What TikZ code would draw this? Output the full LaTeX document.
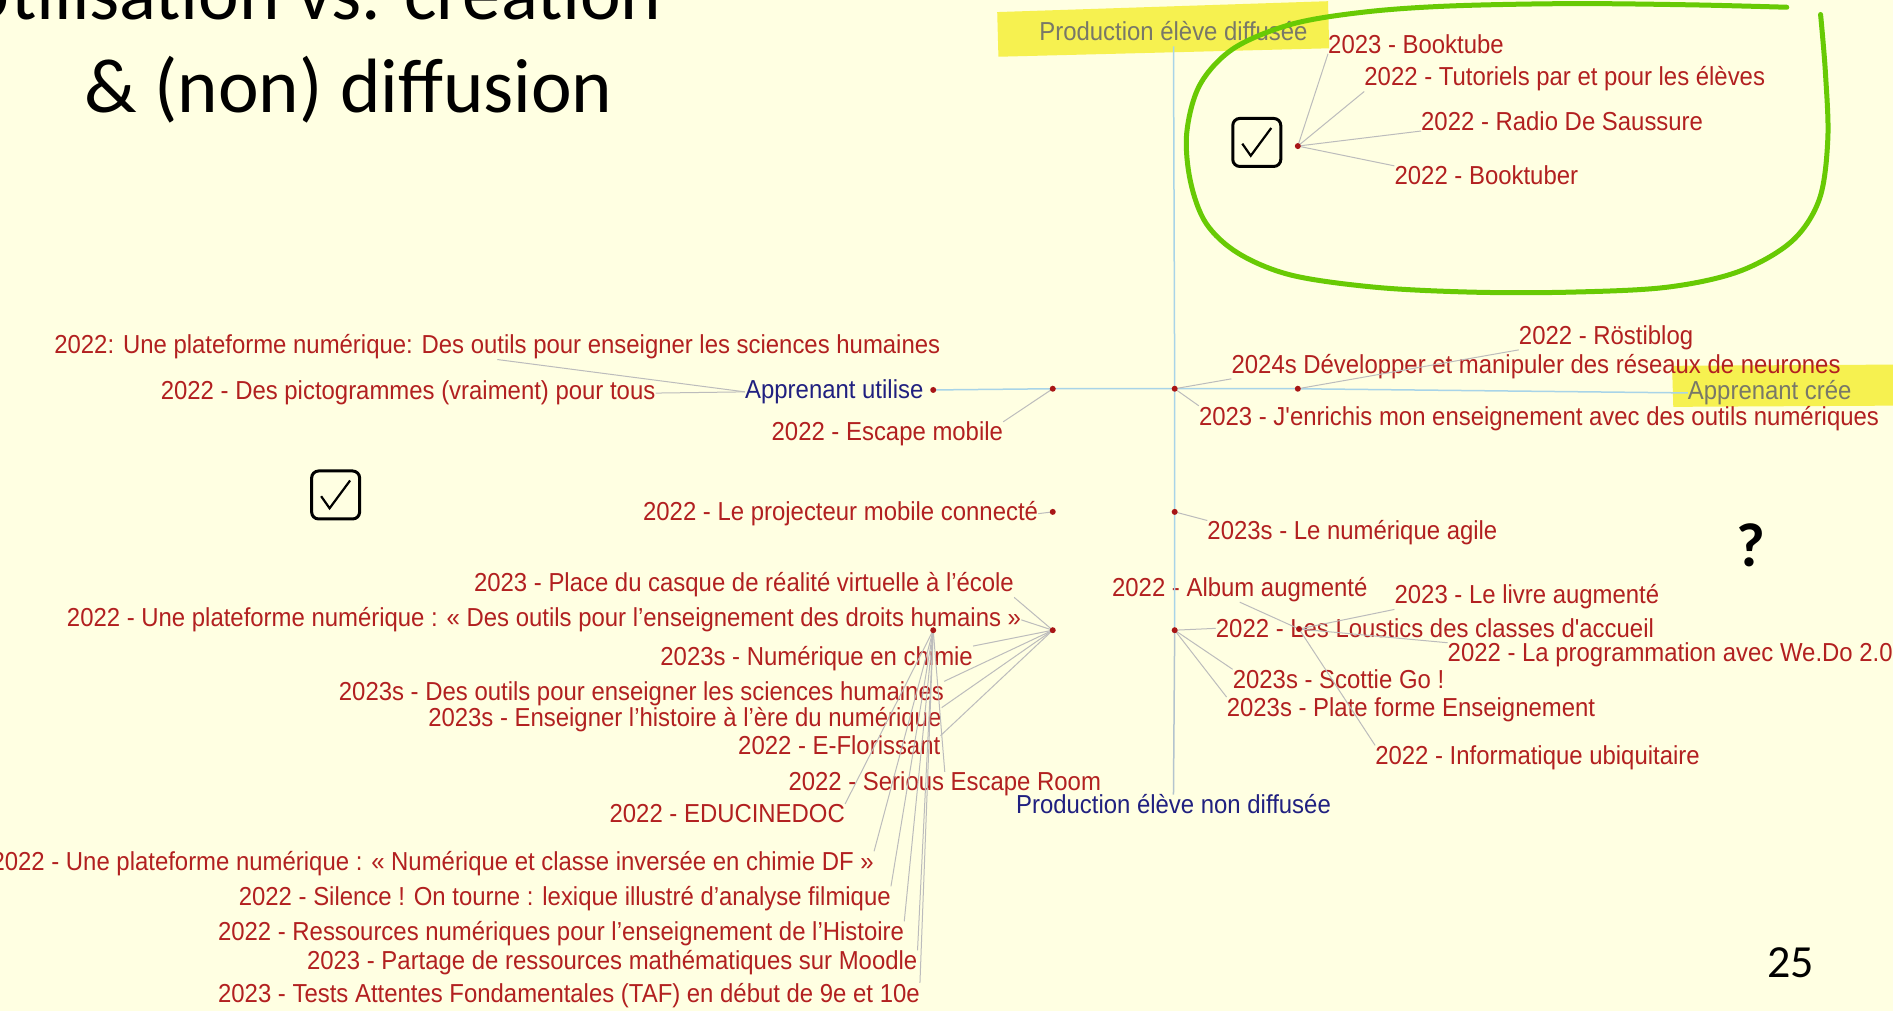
\documentclass[tikz,border=0pt]{standalone}
\usepackage{fontspec}
\setmainfont{Liberation Sans}
\newfontfamily\labelfont{Liberation Sans}[FakeStretch=0.92]
\newfontfamily\slidefont{Carlito}

\definecolor{bg}{RGB}{255,255,226}
\definecolor{lbl}{RGB}{178,32,32}
\definecolor{navy}{RGB}{32,32,128}
\definecolor{faded}{RGB}{120,120,104}
\definecolor{conn}{RGB}{188,188,188}
\definecolor{axis}{RGB}{168,212,232}
\definecolor{axislow}{RGB}{180,196,206}
\definecolor{hubred}{RGB}{168,22,22}
\definecolor{marker}{RGB}{246,241,80}
\definecolor{loopgreen}{RGB}{104,202,4}

\tikzset{
  lab/.style={font=\labelfont\fontsize{26}{28}\selectfont, text=lbl, inner sep=0pt, yshift=-6pt},
  le/.style={lab, anchor=mid east},
  lw/.style={lab, anchor=mid west},
  pole/.style={font=\labelfont\fontsize{26}{28}\selectfont, text=navy, inner sep=0pt, anchor=mid, yshift=-6pt},
  link/.style={draw=conn, line width=1pt},
  axisline/.style={draw=axis, line width=1.5pt},
  loopline/.style={draw=loopgreen, line width=5pt, line cap=round, line join=round},
  checkbox/.style={draw=black, line width=3pt, rounded corners=7pt, minimum width=48pt, minimum height=48pt, inner sep=0pt},
  tick/.style={draw=black, line width=2.2pt},
  hubdot/.style={fill=hubred},
}

\begin{document}
\begin{tikzpicture}[x=1.2073pt, y=-1.2073pt]
\useasboundingbox (0,0) rectangle (1568,837);
\fill[bg] (0,0) rectangle (1568,837);

% highlighter marks
\fill[marker] (826,10) -- (1100,1) -- (1101,40) -- (827,47) -- cycle;
\fill[marker] (1385,303) -- (1568,302) -- (1568,336) -- (1386,337) -- cycle;

% slide title and page number
\node[font=\slidefont\fontsize{77}{92}\selectfont, anchor=base east, inner sep=0pt] (title1) at (548,16) {Utilisation vs. création};
\node[font=\slidefont\fontsize{77}{92}\selectfont, anchor=base west, inner sep=0pt] (title2) at (70,93) {\& (non) diffusion};
\node[font=\slidefont\bfseries\fontsize{62}{70}\selectfont, inner sep=0pt] (quest) at (1450,452) {?};
\node[font=\slidefont\fontsize{46}{52}\selectfont, anchor=base, inner sep=0pt] (pagenum) at (1483,810) {25};

% branching points
\coordinate (ctr) at (973,322);
\coordinate (hL1) at (872,322);
\coordinate (hR1) at (1075,322);
\coordinate (hTop) at (1075,121);
\coordinate (hML) at (872,424);
\coordinate (hMR) at (973,424);
\coordinate (hLL) at (872,522);
\coordinate (hLR) at (973,522);
\coordinate (sL) at (773,522);
\coordinate (sR) at (1076,521);
\coordinate (uDot) at (773,323);

% poles of the two axes
\node[pole, text=faded] (diff) at (972,26) {Production élève diffusée};
\node[pole] (nondiff) at (972,667) {Production élève non diffusée};
\node[pole, anchor=mid east] (utilise) at (765,323) {Apprenant utilise};
\node[pole, text=faded, anchor=mid west] (cree) at (1398,324) {Apprenant crée};

% projects, left side
\node[le] (sh) at (779,286) {2022: Une plateforme numérique: Des outils pour enseigner les sciences humaines};
\node[le] (picto) at (543,324) {2022 - Des pictogrammes (vraiment) pour tous};
\node[lw] (escape) at (639,358) {2022 - Escape mobile};
\node[le] (proj) at (860,424) {2022 - Le projecteur mobile connecté};
\node[le] (casque) at (840,483) {2023 - Place du casque de réalité virtuelle à l’école};
\node[le] (droits) at (846,512) {2022 - Une plateforme numérique : « Des outils pour l’enseignement des droits humains »};
\node[le] (chimie) at (806,544) {2023s - Numérique en chimie};
\node[le] (outils) at (782,573) {2023s - Des outils pour enseigner les sciences humaines};
\node[le] (hist) at (780,595) {2023s - Enseigner l’histoire à l’ère du numérique};
\node[le] (flor) at (779,618) {2022 - E-Florissant};
\node[lw] (serious) at (653,648) {2022 - Serious Escape Room};
\node[le] (educ) at (700,674) {2022 - EDUCINEDOC};
\node[le] (df) at (724,714) {2022 - Une plateforme numérique : « Numérique et classe inversée en chimie DF »};
\node[le] (silence) at (738,743) {2022 - Silence ! On tourne : lexique illustré d’analyse filmique};
\node[le] (ress) at (749,772) {2022 - Ressources numériques pour l’enseignement de l’Histoire};
\node[le] (moodle) at (760,796) {2023 - Partage de ressources mathématiques sur Moodle};
\node[le] (taf) at (762,823) {2023 - Tests Attentes Fondamentales (TAF) en début de 9e et 10e};

% projects, right side
\node[lw] (btube) at (1100,37) {2023 - Booktube};
\node[lw] (tuto) at (1130,64) {2022 - Tutoriels par et pour les élèves};
\node[lw] (radio) at (1177,101) {2022 - Radio De Saussure};
\node[lw] (btuber) at (1155,146) {2022 - Booktuber};
\node[lw] (rosti) at (1258,278) {2022 - Röstiblog};
\node[lw] (neur) at (1020,302) {2024s Développer et manipuler des réseaux de neurones};
\node[lw] (enr) at (993,345) {2023 - J'enrichis mon enseignement avec des outils numériques};
\node[lw] (agile) at (1000,440) {2023s - Le numérique agile};
\node[lw] (album) at (921,487) {2022 - Album augmenté};
\node[lw] (livre) at (1155,493) {2023 - Le livre augmenté};
\node[lw] (loust) at (1007,521) {2022 - Les Loustics des classes d'accueil};
\node[lw] (wedo) at (1199,541) {2022 - La programmation avec We.Do 2.0};
\node[lw] (scot) at (1021,563) {2023s - Scottie Go !};
\node[lw] (plate) at (1016,586) {2023s - Plate forme Enseignement};
\node[lw] (ubiq) at (1139,626) {2022 - Informatique ubiquitaire};

% axes
\draw[axisline, shorten <=6pt] (diff.south) -- (ctr) -- (hMR) -- (hLR);
\draw[axisline, draw=axislow] (hLR) -- (nondiff.north);
\draw[axisline] (uDot) -- (hL1) -- (ctr) -- (hR1) -- (cree.west);

% connectors
\draw[link] (sh.south) -- (utilise.west);
\draw[link] (picto.east) -- (utilise.west);
\draw[link] (hL1) -- (escape.north east);
\draw[link] (hR1) -- (rosti.south west);
\draw[link] (ctr) -- (neur.south west);
\draw[link] (ctr) -- (enr.north west);
\draw[link] (hTop) -- (btube.south west);
\draw[link] (hTop) -- (tuto.south west);
\draw[link] (hTop) -- (radio.south west);
\draw[link] (hTop) -- (btuber.north west);
\draw[link] (proj.east) -- (hML);
\draw[link] (hMR) -- (agile.north west);
\draw[link] (hLL) -- (casque.south east);
\draw[link] (hLL) -- (droits.east);
\draw[link] (hLL) -- (chimie.north east);
\draw[link] (hLL) -- (outils.north east);
\draw[link] (hLL) -- (hist.north east);
\draw[link] (hLL) -- (flor.north east);
\draw[link] (sL) -- (serious.north);
\draw[link] (sL) -- (educ.north east);
\draw[link] (sL) -- (df.north east);
\draw[link] (sL) -- (silence.north east);
\draw[link] (sL) -- (ress.north east);
\draw[link] (sL) -- (moodle.north east);
\draw[link] (sL) -- (taf.north east);
\draw[link] (hLR) -- (loust.west);
\draw[link] (hLR) -- (scot.north west);
\draw[link] (hLR) -- (plate.north west);
\draw[link] (sR) -- (album.south);
\draw[link] (sR) -- (livre.south west);
\draw[link] (sR) -- (wedo.north west);
\draw[link] (sR) -- (ubiq.north west);

% branching dots
\foreach \p in {ctr,hL1,hR1,hTop,hML,hMR,hLL,hLR,sL,sR,uDot}
  \fill[hubdot] (\p) circle[radius=3pt];

% check boxes
\node[checkbox] (cbTop) at (1041,118) {};
\draw[tick] (cbTop.center) ++(-12,1) -- ++(7,10) -- ++(17,-23);
\node[checkbox] (cbLeft) at (278,410) {};
\draw[tick] (cbLeft.center) ++(-12,1) -- ++(7,10) -- ++(17,-23);

% hand-drawn green loop
\draw[loopline] plot[smooth, tension=0.55] coordinates {
  (1480,6) (1400,4) (1300,3) (1200,5) (1130,10) (1070,20) (1022,40) (994,70)
  (983,110) (986,150) (999,185) (1026,210) (1070,228) (1140,238) (1220,242)
  (1300,242) (1380,238) (1440,225) (1484,200) (1507,165) (1514,115) (1512,60) (1508,12)};
\end{tikzpicture}
\end{document}
